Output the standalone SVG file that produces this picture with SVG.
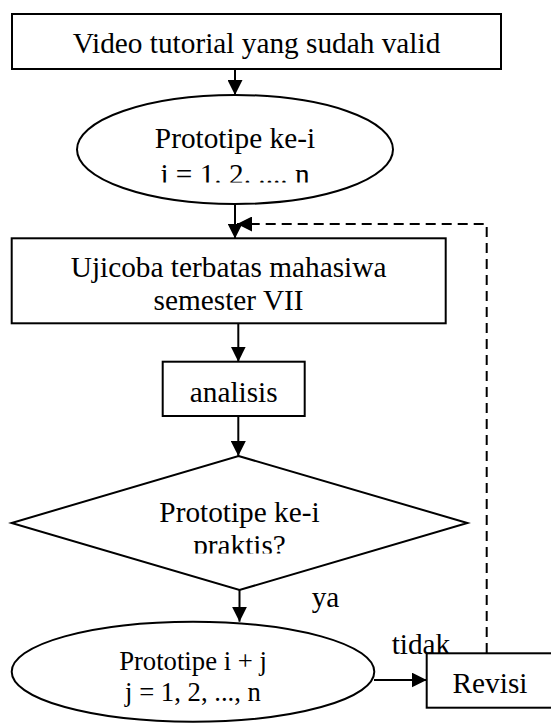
<svg xmlns="http://www.w3.org/2000/svg" width="551" height="724" viewBox="0 0 551 724">
  <style>
    .shape { fill: #ffffff; stroke: #000000; stroke-width: 2; }
    .t { font-family: "Liberation Serif", "Times New Roman", serif; font-size: 29.3px; fill: #000000; text-anchor: middle; }
    .ts { font-family: "Liberation Serif", "Times New Roman", serif; font-size: 26.7px; fill: #000000; text-anchor: middle; }
    .lbl { font-family: "Liberation Serif", "Times New Roman", serif; font-size: 29.3px; fill: #000000; }
    .conn { fill: none; stroke: #000000; stroke-width: 2; }
    .dash { fill: none; stroke: #000000; stroke-width: 2; stroke-dasharray: 10 6; }
  </style>
  <defs>
    <marker id="arrow" viewBox="0 0 15 15" refX="15" refY="7.5" markerWidth="15" markerHeight="15" markerUnits="userSpaceOnUse" orient="auto">
      <path d="M0,0 L15,7.5 L0,15 z" fill="#000000"/>
    </marker>
    <clipPath id="clipE1"><rect x="60" y="100" width="350" height="82.5"/></clipPath>
    <clipPath id="clipD"><rect x="0" y="490" width="480" height="63.5"/></clipPath>
  </defs>
  <rect width="551" height="724" fill="#ffffff"/>

  <g id="connectors">
    <line class="conn" x1="235" y1="69" x2="235" y2="95" marker-end="url(#arrow)"/>
    <line class="conn" x1="235" y1="204" x2="235" y2="238.5" marker-end="url(#arrow)"/>
    <line class="conn" x1="238.3" y1="323.3" x2="238.3" y2="361.7" marker-end="url(#arrow)"/>
    <line class="conn" x1="238.3" y1="412" x2="238.3" y2="456" marker-end="url(#arrow)"/>
    <line class="conn" x1="239.5" y1="590" x2="239.5" y2="621.7" marker-end="url(#arrow)"/>
    <line class="conn" x1="374" y1="680" x2="426.7" y2="680" marker-end="url(#arrow)"/>
    <path class="dash" d="M486.7,653 V224 H237" marker-end="url(#arrow)"/>
  </g>

  <g id="node-video">
    <rect class="shape" x="12" y="14" width="489" height="55"/>
    <text class="t" x="256.5" y="52.7">Video tutorial yang sudah valid</text>
  </g>

  <g id="node-prototipe">
    <ellipse class="shape" cx="235" cy="149.5" rx="158" ry="54.5"/>
    <g clip-path="url(#clipE1)">
      <text class="t" x="235" y="148.3">Prototipe ke-i</text>
      <text class="t" x="235" y="183.5">i = 1. 2. .... n</text>
    </g>
  </g>

  <g id="node-ujicoba">
    <rect class="shape" x="11.7" y="238.3" width="434" height="85"/>
    <text class="t" x="228.6" y="276.7">Ujicoba terbatas mahasiwa</text>
    <text class="t" x="228.6" y="310">semester VII</text>
  </g>

  <g id="node-analisis">
    <rect class="shape" x="162.7" y="361.7" width="142" height="54.3"/>
    <text class="t" x="233.7" y="401.7">analisis</text>
  </g>

  <g id="node-decision">
    <polygon class="shape" points="238.5,456 467.4,523 239.5,590 11.6,523"/>
    <g clip-path="url(#clipD)">
      <text class="t" x="239.5" y="521.7">Prototipe ke-i</text>
      <text class="t" x="239.5" y="555">praktis?</text>
    </g>
  </g>

  <g id="node-prototipe-ij">
    <ellipse class="shape" cx="193" cy="671.7" rx="181.3" ry="50"/>
    <text class="ts" x="193" y="670">Prototipe i + j</text>
    <text class="ts" x="193" y="700.5">j = 1, 2, ..., n</text>
  </g>

  <g id="node-revisi">
    <rect class="shape" x="426.7" y="653.3" width="126.6" height="54.4"/>
    <text class="t" x="490" y="692.7">Revisi</text>
  </g>

  <g id="labels">
    <text class="lbl" x="311.7" y="607">ya</text>
    <text class="lbl" x="391.7" y="654">tidak</text>
  </g>
</svg>
